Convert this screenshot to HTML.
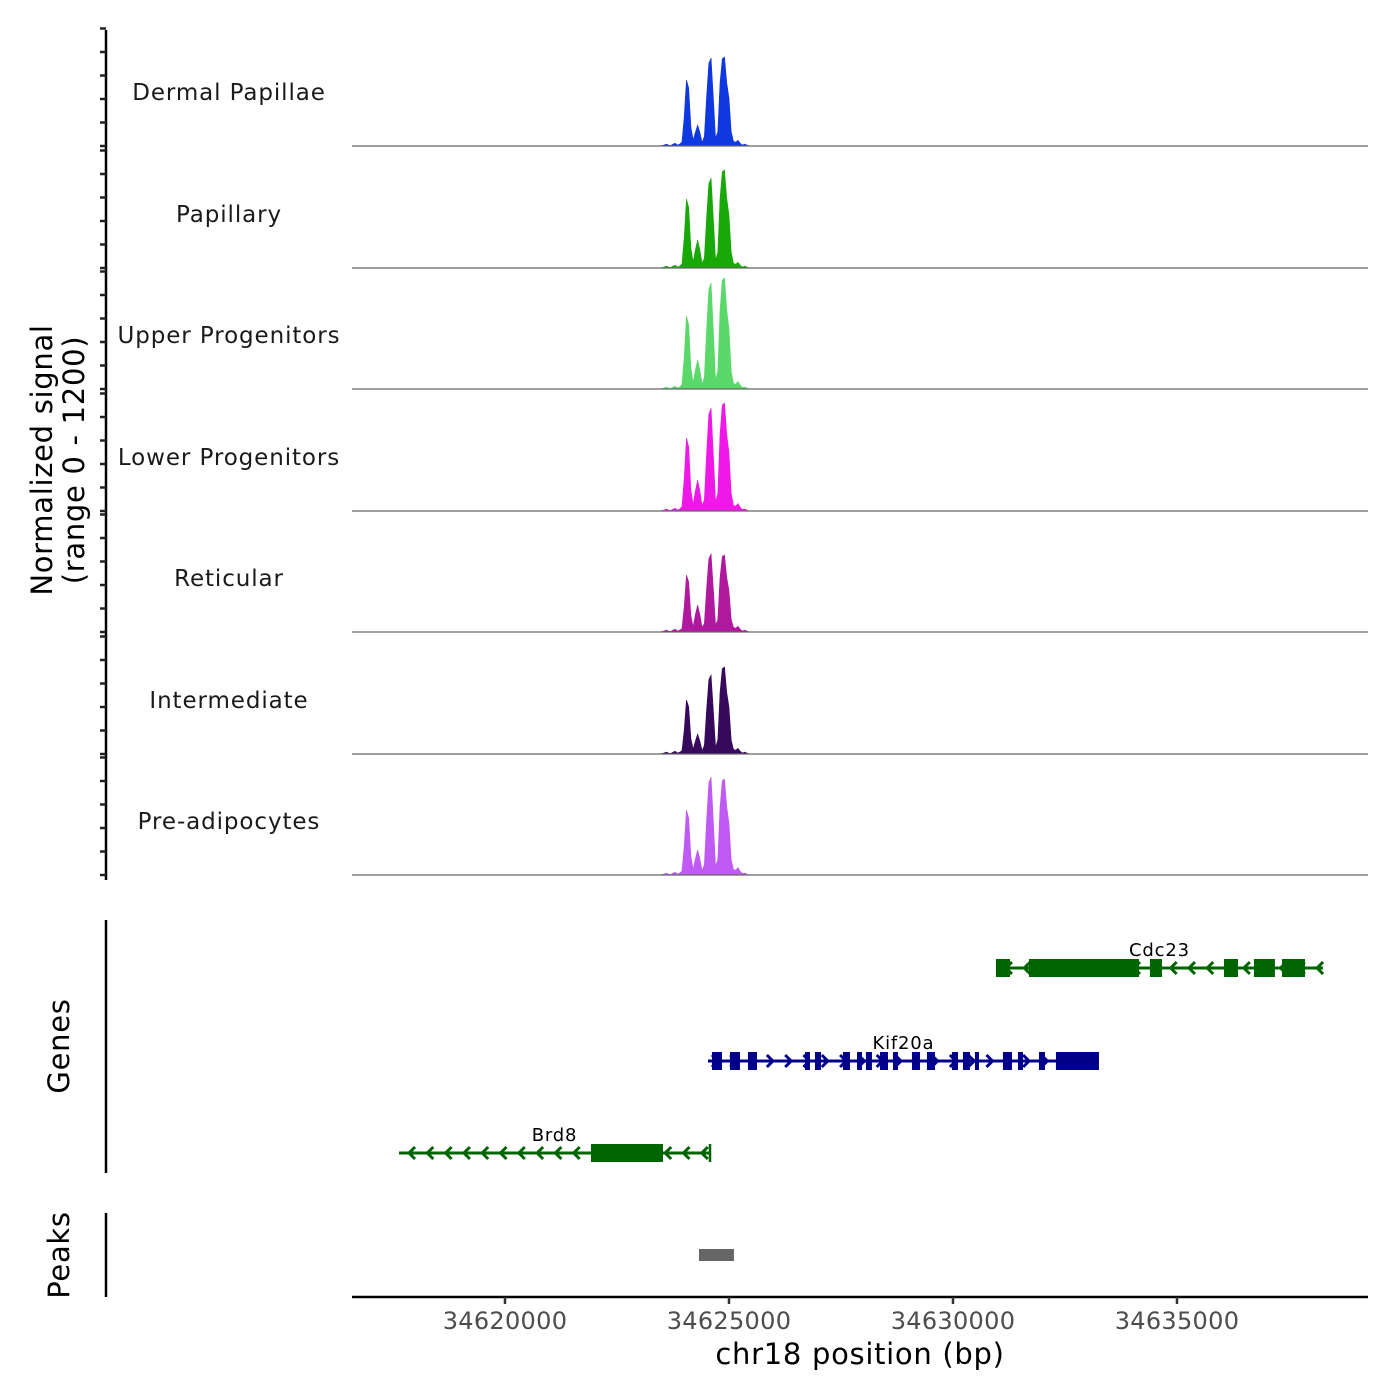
<!DOCTYPE html>
<html><head><meta charset="utf-8"><style>
html,body{margin:0;padding:0;background:#fff;}
svg{display:block;font-family:"DejaVu Sans","Liberation Sans",sans-serif;}
</style></head><body>
<svg id="chart" width="1400" height="1400" viewBox="0 0 1400 1400" xmlns="http://www.w3.org/2000/svg">
<g id="tracks"></g>
<g id="yaxis"></g>
<g id="genes"></g>
<g id="peaks"></g>
<g id="xaxis"></g>
<text transform="translate(52,460) rotate(-90)" text-anchor="middle" font-size="29" letter-spacing="0.7" fill="#000">Normalized signal</text>
<text transform="translate(84,460) rotate(-90)" text-anchor="middle" font-size="29" letter-spacing="0.7" fill="#000">(range 0 - 1200)</text>
<text transform="translate(69,1046) rotate(-90)" text-anchor="middle" font-size="29" letter-spacing="0.7" fill="#000">Genes</text>
<text transform="translate(69,1255) rotate(-90)" text-anchor="middle" font-size="29" letter-spacing="0.7" fill="#000">Peaks</text>
<text x="860" y="1364" text-anchor="middle" font-size="29" letter-spacing="0.7" fill="#000">chr18 position (bp)</text>
</svg>
<script>
const cellTypes = ["Dermal Papillae","Papillary","Upper Progenitors","Lower Progenitors","Reticular","Intermediate","Pre-adipocytes"];
const trackColors = ["#1038e0","#18a808","#5ad96a","#f018e8","#b0189e","#36095c","#c05af5"];
const binStart = 34623400;
const binSize = 50;
const sigDermal = [0,0,5,10,20,10,5,20,30,10,20,42,309,702,618,204,63,145,223,145,38,103,524,880,936,524,84,152,672,928,947,672,511,152,50,40,60,30,10,20,10,0];
const sigPapillary = [0,0,5,10,20,10,5,20,30,10,20,44,323,734,646,213,66,194,298,194,51,105,536,900,957,536,86,167,741,1022,1043,741,563,167,50,40,60,30,10,20,10,0];
const sigUpper = [0,0,5,10,20,10,5,20,30,10,20,47,342,777,684,225,70,201,309,201,53,124,632,1060,1128,632,102,189,839,1157,1181,839,638,189,60,50,80,40,15,20,10,0];
const sigLower = [0,0,5,10,20,10,5,20,30,10,20,47,342,777,684,225,70,215,330,215,56,121,614,1030,1096,614,99,184,816,1126,1149,816,620,184,60,50,80,40,15,20,10,0];
const sigReticular = [0,0,5,10,20,10,5,20,30,10,20,36,267,606,533,176,55,187,287,187,49,91,465,780,830,465,75,131,581,803,819,581,442,131,50,40,60,30,10,20,10,0];
const sigIntermediate = [0,0,5,10,20,10,5,20,30,10,20,34,253,574,505,166,52,138,213,138,36,92,470,790,840,470,76,148,657,907,926,657,500,148,50,40,60,30,10,20,10,0];
const sigPreadipocytes = [0,0,5,10,20,10,5,20,30,10,20,41,304,691,608,200,62,173,266,173,45,115,584,980,1043,584,94,163,725,1001,1021,725,551,163,60,50,80,40,15,20,10,0];
const signals = [sigDermal,sigPapillary,sigUpper,sigLower,sigReticular,sigIntermediate,sigPreadipocytes];
const xTicks = [34620000,34625000,34630000,34635000];
const yTickValues = [0,250,500,750,1000,1250];
const genes = [
 {name:"Cdc23",strand:-1,color:"#006400",row:0,start:34630959,end:34638258,
  exons:[[34630959,34631272],[34631696,34634151],[34634396,34634664],[34636048,34636361],[34636718,34637186],[34637343,34637856]]},
 {name:"Kif20a",strand:1,color:"#00008b",row:1,start:34624531,end:34633258,
  exons:[[34624620,34624843],[34625022,34625245],[34625424,34625625],[34626696,34626808],[34626919,34627053],[34627544,34627700],[34627857,34627968],[34628057,34628191],[34628370,34628549],[34628660,34628772],[34629084,34629263],[34629419,34629598],[34629977,34630111],[34630223,34630379],[34630490,34630580],[34631115,34631316],[34631450,34631562],[34631919,34632053],[34632298,34633258]]},
 {name:"Brd8",strand:-1,color:"#006400",row:2,start:34617634,end:34624576,
  exons:[[34621919,34623527]]}
];
const peakRegions = [[34624330,34625111]];

const NS="http://www.w3.org/2000/svg";
function mk(tag,attrs,parent){const e=document.createElementNS(NS,tag);for(const k in attrs)e.setAttribute(k,attrs[k]);parent.appendChild(e);return e;}
const X0=352,X1=1368,BP0=34616585,PXBP=0.0448;
function xs(bp){return X0+(bp-BP0)*PXBP;}
const baselines=[146,268,389,511,632,754,875];
const VS=0.094;
function ys(v,i){return baselines[i]-v*VS;}

const tracks=document.getElementById('tracks');
cellTypes.forEach((ct,i)=>{
  const g=mk('g',{},tracks);
  
  
  const sig=signals[i];
  let d='M'+xs(binStart)+','+baselines[i];
  sig.forEach((v,k)=>{d+=' L'+xs(binStart+k*binSize).toFixed(2)+','+ys(v,i).toFixed(2);});
  d+=' L'+xs(binStart+(sig.length-1)*binSize).toFixed(2)+','+baselines[i]+' Z';
  const p=mk('path',{d:d,fill:trackColors[i],stroke:trackColors[i],'stroke-width':0.6},g);
  
  
  const l=mk('line',{x1:X0,x2:X1,y1:baselines[i],y2:baselines[i],stroke:'#666','stroke-width':1.2},g);
  
  
  const t=mk('text',{x:229,y:baselines[i]-46,'text-anchor':'middle','font-size':23,'letter-spacing':0.9,fill:'#1a1a1a'},g);
  
  
  t.textContent=ct;
});

const ya=document.getElementById('yaxis');
mk('line',{x1:106,x2:106,y1:30,y2:880,stroke:'#000','stroke-width':2.5},ya);
baselines.forEach((b,i)=>{
  yTickValues.forEach(v=>{
    const tk=mk('line',{x1:100,x2:106,y1:ys(v,i),y2:ys(v,i),stroke:'#222','stroke-width':2.5},ya);
    
    
  });
});

const gg=document.getElementById('genes');
mk('line',{x1:106,x2:106,y1:920,y2:1173,stroke:'#000','stroke-width':2.5},gg);
const rowY=[968,1061,1153];
genes.forEach(ge=>{
  const g=mk('g',{},gg);
  
  
  const y=rowY[ge.row];
  const a=xs(ge.start),b=xs(ge.end);
  mk('line',{x1:a,x2:b,y1:y,y2:y,stroke:ge.color,'stroke-width':3},g);
  for(let x=a+10;x<b-4;x+=18.3){
    const dx=ge.strand>0?-6:6;
    mk('polyline',{points:(x+dx)+','+(y-6)+' '+x+','+y+' '+(x+dx)+','+(y+6),fill:'none',stroke:ge.color,'stroke-width':3},g);
  }
  if(ge.name==="Brd8") mk('line',{x1:b,x2:b,y1:y-9,y2:y+9,stroke:ge.color,'stroke-width':2.5},g);
  ge.exons.forEach(e=>{
    const r=mk('rect',{x:xs(e[0]),y:y-9,width:Math.max(xs(e[1])-xs(e[0]),2),height:18,fill:ge.color},g);
    
    
  });
  const t=mk('text',{x:(a+b)/2,y:y-12,'text-anchor':'middle','font-size':18,'letter-spacing':0.8,fill:'#000'},g);
  
  
  t.textContent=ge.name;
});

const pg=document.getElementById('peaks');
mk('line',{x1:106,x2:106,y1:1213,y2:1297,stroke:'#000','stroke-width':2.5},pg);
peakRegions.forEach(pk=>{
  const r=mk('rect',{x:xs(pk[0]),y:1249,width:xs(pk[1])-xs(pk[0]),height:12,fill:'#666'},pg);
  
  
});

const xa=document.getElementById('xaxis');
mk('line',{x1:X0,x2:X1,y1:1297,y2:1297,stroke:'#000','stroke-width':2.5},xa);
xTicks.forEach(v=>{
  mk('line',{x1:xs(v),x2:xs(v),y1:1297,y2:1304,stroke:'#333','stroke-width':2.5},xa);
  const t=mk('text',{x:xs(v),y:1329,'text-anchor':'middle','font-size':24,'letter-spacing':0.3,fill:'#4d4d4d'},xa);
  
  
  t.textContent=v;
});
</script>
</body></html>
